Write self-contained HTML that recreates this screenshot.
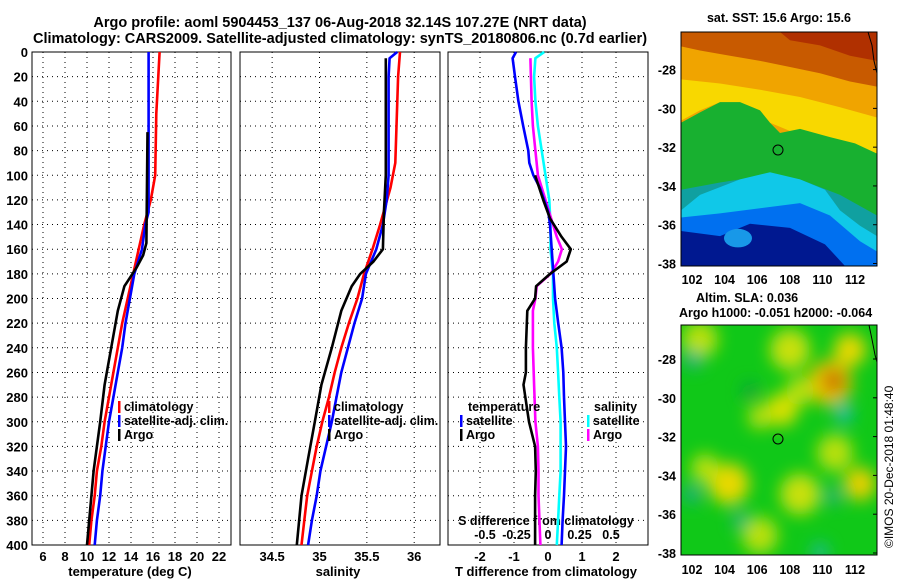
<!DOCTYPE html>
<html><head><meta charset="utf-8"><style>
html,body{margin:0;padding:0;background:#fff;}
svg{display:block;font-family:"Liberation Sans",sans-serif;font-weight:bold;}
</style></head><body>
<svg id="fig" width="900" height="580" viewBox="0 0 900 580" xmlns="http://www.w3.org/2000/svg">
<defs>
<filter id="blur" x="-20%" y="-20%" width="140%" height="140%"><feGaussianBlur stdDeviation="8"/></filter>
<clipPath id="m1"><rect x="681" y="32" width="196" height="234"/></clipPath>
<clipPath id="m2"><rect x="681" y="325" width="196" height="230"/></clipPath>
</defs>
<text x="340" y="27" font-size="14.5" text-anchor="middle">Argo profile: aoml 5904453_137 06-Aug-2018 32.14S 107.27E (NRT data)</text>
<text x="340" y="43" font-size="14.5" text-anchor="middle">Climatology: CARS2009. Satellite-adjusted climatology: synTS_20180806.nc (0.7d earlier)</text>
<g id="maps">
<g clip-path="url(#m1)">
<g transform="translate(0,32) scale(1,1.0308) translate(0,-32)">
<rect x="681" y="32" width="196" height="227" fill="#f0a400"/>
<polygon fill="#c85a00" points="681,32 877,32 877,85 850,80 820,72 790,66 760,60 730,55 700,50 681,46"/>
<polygon fill="#b03000" points="780,32 877,32 877,60 850,55 820,45 790,40"/>
<polygon fill="#f8d800" points="681,78 720,82 760,88 800,95 840,105 877,115 877,150 850,140 820,132 790,128 770,120 760,108 740,100 720,100 700,108 681,118"/>
<polygon fill="#18b030" points="681,120 700,110 720,100 740,100 760,108 770,120 780,130 800,126 830,134 855,140 877,150 877,259 681,259"/>
<polygon fill="#10a0a0" points="681,185 720,178 760,172 800,175 840,190 877,210 877,259 681,259"/>
<polygon fill="#10c8e8" points="681,205 700,190 740,175 770,168 800,175 825,185 840,205 860,220 877,230 877,259 681,259"/>
<polygon fill="#0070f0" points="681,212 720,208 760,203 800,198 830,210 860,235 877,245 877,259 681,259"/>
<polygon fill="#001890" points="681,225 720,230 750,218 790,222 825,238 845,259 681,259"/>
<ellipse cx="738" cy="232" rx="14" ry="9" fill="#1898e8"/>
<polyline points="868,32 872,45 874,60 877,72" fill="none" stroke="#000" stroke-width="1"/>
</g>
</g>
<rect x="681" y="32" width="196" height="234" fill="none" stroke="#000" stroke-width="1"/>
<g clip-path="url(#m2)">
<g transform="translate(0,325) scale(1,1.0314) translate(0,-316)">
<rect x="681" y="300" width="196" height="260" fill="#10c818"/>
<g filter="url(#blur)">
<circle cx="700" cy="330" r="18" fill="#b8e010"/>
<circle cx="790" cy="340" r="20" fill="#c8e010"/>
<circle cx="850" cy="340" r="16" fill="#e8d800"/>
<circle cx="830" cy="372" r="22" fill="#e8c000"/>
<circle cx="834" cy="370" r="10" fill="#c06000"/>
<circle cx="782" cy="398" r="16" fill="#d8e000"/>
<circle cx="800" cy="380" r="14" fill="#b8e010"/>
<circle cx="760" cy="405" r="12" fill="#b8e010"/>
<circle cx="729" cy="470" r="20" fill="#e8d800"/>
<circle cx="705" cy="455" r="14" fill="#b8e010"/>
<circle cx="860" cy="470" r="16" fill="#e8d000"/>
<circle cx="800" cy="480" r="20" fill="#c8e010"/>
<circle cx="760" cy="520" r="18" fill="#b8e010"/>
<circle cx="835" cy="440" r="18" fill="#b8e010"/>
<circle cx="693" cy="350" r="8" fill="#20a8a0"/>
<circle cx="844" cy="402" r="8" fill="#10b8d8"/>
<circle cx="692" cy="480" r="8" fill="#20a8a0"/>
<circle cx="833" cy="482" r="7" fill="#20a8a0"/>
<circle cx="740" cy="505" r="7" fill="#20a8a0"/>
<circle cx="820" cy="536" r="8" fill="#20b8b0"/>
<circle cx="750" cy="380" r="8" fill="#10a040"/>
</g>
<polyline points="869,316 872,330 875,345 877,352" fill="none" stroke="#000" stroke-width="1"/>
</g>
</g>
<rect x="681" y="325" width="196" height="230" fill="none" stroke="#000" stroke-width="1"/>
<circle cx="778" cy="150" r="5" fill="none" stroke="#000" stroke-width="1"/>
<circle cx="778" cy="439" r="5" fill="none" stroke="#000" stroke-width="1"/>
<text x="779" y="22" font-size="12.5" text-anchor="middle">sat. SST: 15.6 Argo: 15.6</text>
<text x="696" y="302" font-size="12.5" text-anchor="start">Altim. SLA: 0.036</text>
<text x="679" y="317" font-size="12.5" text-anchor="start">Argo h1000: -0.051 h2000: -0.064</text>
<text transform="translate(893,548) rotate(-90)" font-size="12" font-weight="normal">©IMOS 20-Dec-2018 01:48:40</text>
</g>
<g id="plots"></g>
</svg>
<script>
// ---- data ----
var depthTicks = [0,20,40,60,80,100,120,140,160,180,200,220,240,260,280,300,320,340,360,380,400];
var tempTicks = [6,8,10,12,14,16,18,20,22];
var salTicks = [34.5,35,35.5,36];
var salTickLabels = ['34.5','35','35.5','36'];
var dTTicks = [-2,-1,0,1,2];
var dSTicks = [-0.5,-0.25,0,0.25,0.5];
var latTicks = [-28,-30,-32,-34,-36,-38];
var lonTicks = [102,104,106,108,110,112];

var climTDepth = [0,50,100,120,140,160,180,200,220,240,260,280,300,320,340,360,380,400];
var climT = [16.6,16.3,16.2,15.8,15.2,14.7,14.2,13.7,13.2,12.8,12.4,12.0,11.6,11.3,10.9,10.7,10.4,10.2];
var satTDepth = [0,130,140,160,180,200,220,240,260,280,300,320,340,360,380,400];
var satT = [15.6,15.6,15.3,15.0,14.3,13.9,13.5,13.2,12.8,12.4,12.0,11.7,11.4,11.2,10.9,10.7];
var argoTDepth = [65,155,165,175,190,210,240,270,300,340,380,400];
var argoT = [15.5,15.4,15.1,14.5,13.4,12.8,12.2,11.6,11.2,10.6,10.2,10.0];

var climSDepth = [0,20,90,110,140,160,180,200,220,240,260,280,300,320,340,360,380,400];
var climS = [35.85,35.83,35.80,35.75,35.64,35.56,35.47,35.40,35.31,35.23,35.16,35.10,35.03,34.97,34.92,34.87,34.84,34.81];
var satSDepth = [0,5,20,100,120,140,160,180,200,220,240,260,280,300,320,340,360,380,400];
var satS = [35.82,35.74,35.73,35.73,35.71,35.67,35.60,35.49,35.45,35.37,35.30,35.23,35.18,35.13,35.07,35.01,34.97,34.92,34.88];
var argoSDepth = [5,100,130,160,170,180,190,210,240,270,300,330,360,400];
var argoS = [35.70,35.70,35.68,35.67,35.57,35.43,35.34,35.23,35.13,35.02,34.95,34.88,34.81,34.76];

var satDTDepth = [0,5,20,40,60,80,90,100,110,130,140,160,180,200,220,240,260,280,300,320,340,360,380,400];
var satDT = [-0.94,-1.04,-0.97,-0.87,-0.73,-0.58,-0.55,-0.43,-0.24,0.01,0.06,0.11,0.16,0.21,0.30,0.40,0.45,0.47,0.50,0.53,0.50,0.47,0.43,0.40];
var argoDTDepth = [100,120,135,150,160,170,180,190,200,210,240,260,270,300,320,340,360,380,400];
var argoDT = [-0.38,-0.14,0.06,0.40,0.67,0.55,0.06,-0.35,-0.38,-0.61,-0.65,-0.65,-0.72,-0.56,-0.38,-0.36,-0.38,-0.38,-0.38];
var satDSDepth = [0,5,20,40,60,80,100,120,140,160,180,200,220,240,260,280,300,320,340,360,380,400];
var satDS = [-0.03,-0.10,-0.11,-0.10,-0.08,-0.05,-0.02,0.01,0.02,0.02,0.04,0.04,0.05,0.07,0.08,0.09,0.10,0.10,0.10,0.09,0.08,0.07];
var argoDSDepth = [5,40,60,80,100,120,140,150,160,170,180,190,200,210,240,270,300,320,340,360,400];
var argoDS = [-0.14,-0.13,-0.12,-0.10,-0.08,-0.02,0.04,0.07,0.11,0.08,0.02,-0.09,-0.10,-0.12,-0.12,-0.11,-0.10,-0.08,-0.075,-0.075,-0.06];

// ---- axes ----
var NS='http://www.w3.org/2000/svg';
var g=document.getElementById('plots');
var Y0=52,Y1=545;
function yD(d){return Y0+d*(Y1-Y0)/400;}
function xT(t){return 43+(t-6)*11;}
function xS(s){return 319.5+(s-35)*94.7;}
function xDT(v){return 548+v*34;}
function xDS(v){return 548+v*126;}
function el(tag,attrs,parent){var e=document.createElementNS(NS,tag);for(var k in attrs)e.setAttribute(k,attrs[k]);(parent||g).appendChild(e);return e;}
function txt(x,y,s,anchor,size,parent){var t=el('text',{x:x,y:y,'font-size':size||12.5,'text-anchor':anchor||'middle'},parent);t.textContent=s;return t;}

var panels=[{x0:32,x1:231,name:'temperature-panel'},{x0:240,x1:440,name:'salinity-panel'},{x0:448,x1:648,name:'difference-panel'}];
panels.forEach(function(p,i){
  var fr=el('rect',{x:p.x0,y:Y0,width:p.x1-p.x0,height:Y1-Y0,fill:'none',stroke:'#000','stroke-width':1});
  
  
  depthTicks.forEach(function(d){
    if(d>0&&d<400){var l=el('line',{x1:p.x0,x2:p.x1,y1:yD(d),y2:yD(d),stroke:'#000','stroke-width':1,'stroke-dasharray':'1,4'});
    
    }
  });
});
depthTicks.forEach(function(d){
  var t=txt(28,yD(d)+5,String(d),'end',13);
  
  
});
function vgrid(vals,fx,labels){
  vals.forEach(function(v,i){
    var x=fx(v);
    var l=el('line',{x1:x,x2:x,y1:Y0,y2:Y1,stroke:'#000','stroke-width':1,'stroke-dasharray':'1,4'});
    
    
    var t=txt(x,561,labels?labels[i]:String(v),'middle',13);
    
    
  });
}
vgrid(tempTicks,xT);
vgrid(salTicks,xS,salTickLabels);
vgrid(dTTicks,xDT);
var a1=txt(130,576,'temperature (deg C)','middle',13);


var a2=txt(338,576,'salinity','middle',13);


var a3=txt(546,576,'T difference from climatology','middle',13);


var a4=txt(546,525,'S difference from climatology','middle',12.5);


dSTicks.forEach(function(v){
  var t=txt(xDS(v),539,String(v),'middle',12.5);
  
  
});

function line(depths,vals,fx,color,name){
  var pts=depths.map(function(d,i){return fx(vals[i]).toFixed(1)+','+yD(d).toFixed(1);}).join(' ');
  var p=el('polyline',{points:pts,fill:'none',stroke:color,'stroke-width':2.6,'stroke-linejoin':'round'});
  
  
}
line(climTDepth,climT,xT,'#ff0000','climatology-temperature-line');
line(satTDepth,satT,xT,'#0000ff','satellite-temperature-line');
line(argoTDepth,argoT,xT,'#000000','argo-temperature-line');
line(climSDepth,climS,xS,'#ff0000','climatology-salinity-line');
line(satSDepth,satS,xS,'#0000ff','satellite-salinity-line');
line(argoSDepth,argoS,xS,'#000000','argo-salinity-line');
line(satDSDepth,satDS,xDS,'#00ffff','satellite-salinity-diff-line');
line(argoDSDepth,argoDS,xDS,'#ff00ff','argo-salinity-diff-line');
line(satDTDepth,satDT,xDT,'#0000ff','satellite-temperature-diff-line');
line(argoDTDepth,argoDT,xDT,'#000000','argo-temperature-diff-line');

function legend(x,y,color,label,name){
  var b=el('rect',{x:x,y:y-10,width:2.5,height:12,fill:color});
  
  
  var t=txt(x+6,y,label,'start',12.5);
  
  
}
legend(118,411,'#ff0000','climatology','legend-climatology');
legend(118,425,'#0000ff','satellite-adj. clim.','legend-satellite-adj');
legend(118,439,'#000000','Argo','legend-argo');
legend(328,411,'#ff0000','climatology','legend-sal-climatology');
legend(328,425,'#0000ff','satellite-adj. clim.','legend-sal-satellite-adj');
legend(328,439,'#000000','Argo','legend-sal-argo');
var lt=txt(468,411,'temperature','start',12.5);


legend(460,425,'#0000ff','satellite','legend-temp-satellite');
legend(460,439,'#000000','Argo','legend-temp-argo');
var ls=txt(594,411,'salinity','start',12.5);


legend(587,425,'#00ffff','satellite','legend-sal-diff-satellite');
legend(587,439,'#ff00ff','Argo','legend-sal-diff-argo');

// map axes
function latY1(l){return 69.6+(-28-l)*19.39;}
function latY2(l){return 359+(-28-l)*19.4;}
function lonX(l){return 692+(l-102)*16.3;}
latTicks.forEach(function(l){
  [latY1(l),latY2(l)].forEach(function(y){
    var t=txt(676,y+5,String(l),'end',12.5);
    
    
    el('line',{x1:877,x2:873,y1:y,y2:y,stroke:'#000'});
  });
});
lonTicks.forEach(function(l){
  [284,574].forEach(function(y){
    var t=txt(lonX(l),y,String(l),'middle',12.5);
    
    
  });
});
</script>
</body></html>
